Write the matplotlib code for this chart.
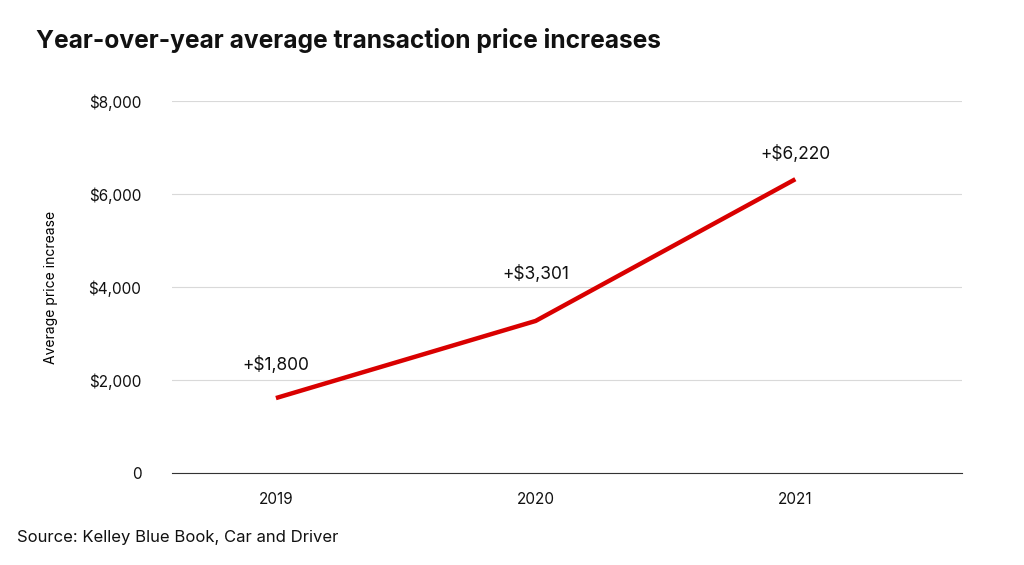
import matplotlib
matplotlib.use("Agg")
import matplotlib.pyplot as plt

years = ["2019", "2020", "2021"]
values = [1610, 3270, 6320]
labels = ["+$1,800", "+$3,301", "+$6,220"]
label_offsets = [17, 27, 12]  # points above the line

plt.rcParams['font.family'] = ['Inter', 'DejaVu Sans']
fig = plt.figure(figsize=(10.24, 5.65), dpi=100)
ax = fig.add_axes([0.168, 0.163, 0.771, 0.658])
x = list(range(len(years)))
ax.plot(x, values, color="#d90000", lw=3.2, solid_capstyle="butt")
for xi, v, t, o in zip(x, values, labels, label_offsets):
    ax.annotate(t, (xi, v), xytext=(0, o), textcoords="offset points",
                ha="center", va="bottom", fontsize=12.5, color="#111")
ax.set_xlim(-0.4, 2.64)
ax.set_ylim(0, 8000)
ax.set_yticks([0, 2000, 4000, 6000, 8000])
ax.set_yticklabels(["0", "$2,000", "$4,000", "$6,000", "$8,000"])
ax.set_xticks(x)
ax.set_xticklabels(years)
ax.grid(axis="y", color="#d9d9d9", lw=0.8)
ax.set_axisbelow(True)
for s in ["top", "right", "left"]:
    ax.spines[s].set_visible(False)
ax.spines["bottom"].set_color("#333")
ax.tick_params(axis="both", length=0, labelsize=11, colors="#111")
ax.tick_params(axis="x", pad=14)
ax.tick_params(axis="y", pad=22)
ax.set_ylabel("Average price increase", fontsize=10, labelpad=22)
fig.text(0.035, 0.915, "Year-over-year average transaction price increases",
         fontsize=17.7, fontweight="bold", color="#111")
fig.text(0.017, 0.04, "Source: Kelley Blue Book, Car and Driver", fontsize=12, color="#111")
fig.savefig("out.png", dpi=100)
